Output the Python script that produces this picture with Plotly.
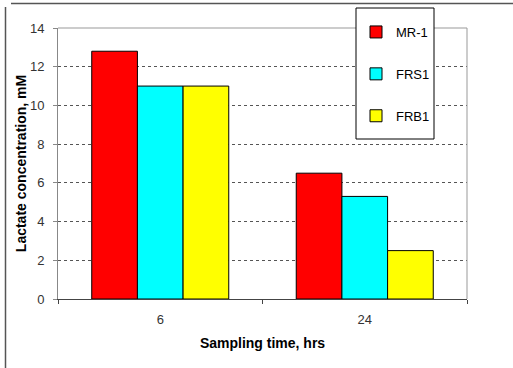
import plotly.graph_objects as go

categories = ["6", "24"]
series_names = ["MR-1", "FRS1", "FRB1"]
mr1 = [12.8, 6.5]
frs1 = [11.0, 5.3]
frb1 = [11.0, 2.5]
colors = ["#FF0000", "#00FFFF", "#FFFF00"]
y_ticks = [0, 2, 4, 6, 8, 10, 12, 14]

fig = go.Figure()
for i, (name, vals) in enumerate(zip(series_names, [mr1, frs1, frb1])):
    fig.add_trace(go.Bar(
        x=categories, y=vals, name=name, legendgroup=name,
        marker=dict(color=colors[i], line=dict(color="#000000", width=1)),
    ))

font = "Arial, Liberation Sans, sans-serif"
W, PL, PT, PH, PWd = 513, 58, 28, 271, 409


def px(x):
    return (x - PL) / PWd


def py(y):
    return (PT + PH - y) / PH


fig.update_layout(
    width=513, height=368,
    margin=dict(l=58, r=46, t=28, b=69),
    paper_bgcolor="white", plot_bgcolor="white",
    barmode="group", bargap=0.33, bargroupgap=0,
    font=dict(family=font, size=13, color="#222222"),
    showlegend=True,
    legend=dict(
        x=px(356), y=py(17), xanchor="left", yanchor="top",
        bgcolor="rgba(0,0,0,0)", borderwidth=0,
        font=dict(family=font, size=13, color="#000000"),
        tracegroupgap=22, itemwidth=30,
    ),
    xaxis=dict(
        type="category", tickson="boundaries", ticks="outside", ticklen=4,
        tickcolor="#444444", showline=True, linecolor="#444444", linewidth=1,
        tickfont=dict(size=13, color="#333333"), ticklabelstandoff=8,
        title=dict(text="<b>Sampling time, hrs</b>", font=dict(size=14, color="#000000"), standoff=12),
    ),
    yaxis=dict(
        range=[0, 14], tickvals=y_ticks, ticks="outside", ticklen=4,
        tickcolor="#888888", showline=True, linecolor="#888888", linewidth=1,
        showgrid=True, gridcolor="#555555", griddash="dot", gridwidth=1,
        tickfont=dict(size=13, color="#333333"), ticklabelstandoff=6,
        title=dict(text="<b>Lactate concentration, mM</b>", font=dict(size=14, color="#000000"), standoff=0),
    ),
    shapes=[
        dict(type="line", xref="paper", yref="paper", x0=0, x1=1, y0=1, y1=1,
             line=dict(color="#999999", width=1)),
        dict(type="line", xref="paper", yref="paper", x0=1, x1=1, y0=0, y1=1,
             line=dict(color="#999999", width=1)),
        dict(type="rect", xref="paper", yref="paper", layer="above",
             x0=px(356), x1=px(434), y0=py(8), y1=py(139),
             fillcolor="white", line=dict(color="#000000", width=1)),
        dict(type="line", xref="paper", yref="paper",
             x0=px(11), x1=px(513), y0=py(3.5), y1=py(3.5),
             line=dict(color="#555555", width=1.5)),
        dict(type="line", xref="paper", yref="paper",
             x0=px(5.5), x1=px(5.5), y0=py(7), y1=py(368),
             line=dict(color="#555555", width=1.5)),
    ],
)

fig.write_html("out.html")
